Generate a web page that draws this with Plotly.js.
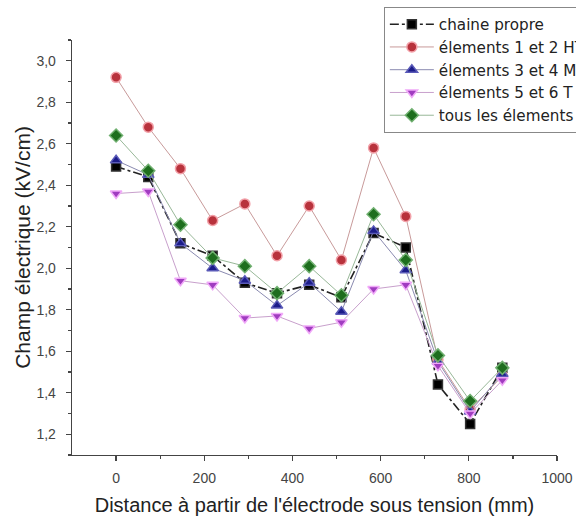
<!DOCTYPE html>
<html>
<head>
<meta charset="utf-8">
<script src="https://cdn.plot.ly/plotly-3.0.1.min.js"></script>
<style>html,body{margin:0;padding:0;background:#fff;overflow:hidden;}#chart{width:576px;height:522px;}</style>
</head>
<body>
<div id="chart"></div>
<script>
const distance = [0, 73, 146, 219, 292, 365, 438, 511, 584, 657, 730, 803, 876];
const chainePropre = [2.49, 2.44, 2.12, 2.06, 1.93, 1.88, 1.92, 1.86, 2.17, 2.10, 1.44, 1.25, 1.52];
const elements12 = [2.92, 2.68, 2.48, 2.23, 2.31, 2.06, 2.30, 2.04, 2.58, 2.25, 1.56, 1.32, 1.48];
const elements34 = [2.52, 2.45, 2.12, 2.00, 1.94, 1.82, 1.93, 1.79, 2.18, 1.99, 1.55, 1.31, 1.49];
const elements56 = [2.36, 2.37, 1.94, 1.92, 1.76, 1.77, 1.71, 1.74, 1.90, 1.92, 1.53, 1.30, 1.46];
const tousElements = [2.64, 2.47, 2.21, 2.05, 2.01, 1.88, 2.01, 1.87, 2.26, 2.04, 1.58, 1.36, 1.52];
const seriesNames = ["chaine propre", "élements 1 et 2 HT", "élements 3 et 4 MT", "élements 5 et 6 T", "tous les élements"];
const xTitle = "Distance à partir de l'électrode sous tension (mm)";
const yTitle = "Champ électrique (kV/cm)";

function tr(y, name, lineColor, dash, mColor, symbol, mLine, size) {
  return {
    x: distance, y: y, name: name, type: 'scatter', mode: 'lines+markers',
    line: {color: lineColor, width: dash === 'solid' ? 1 : 1.6, dash: dash},
    marker: {color: mColor, symbol: symbol, size: size, line: {color: mLine, width: 1.5}}
  };
}
const data = [
  tr(chainePropre, seriesNames[0], '#222222', 'dashdot', '#000000', 'square', '#333333', 9),
  tr(elements12, seriesNames[1], '#c89a9a', 'solid', '#b8323c', 'circle', '#f2a0a8', 10),
  tr(elements34, seriesNames[2], '#8a8ab0', 'solid', '#1c1c8a', 'triangle-up', '#5a5ab8', 10),
  tr(elements56, seriesNames[3], '#c8a0cc', 'solid', '#a03cc0', 'triangle-down', '#f0a8f8', 10),
  tr(tousElements, seriesNames[4], '#98b898', 'solid', '#1e6e1e', 'diamond', '#70b070', 10)
];
const layout = {
  width: 576, height: 522,
  margin: {l: 72, r: 19, t: 40, b: 67, autoexpand: false},
  paper_bgcolor: '#ffffff', plot_bgcolor: '#ffffff',
  font: {family: 'Liberation Sans, Arial, sans-serif', color: '#333333', size: 14},
  separators: ', ',
  showlegend: true,
  legend: {
    x: 0.643, y: 1.08, xanchor: 'left', yanchor: 'top',
    bgcolor: '#ffffff', bordercolor: '#888888', borderwidth: 1,
    font: {size: 15.2, color: '#222222', family: 'DejaVu Sans, sans-serif'}, tracegroupgap: 0, itemwidth: 44
  },
  xaxis: {
    range: [-100, 1000], showgrid: false, zeroline: false,
    showline: true, linecolor: '#444444', linewidth: 1.3,
    ticks: 'outside', ticklen: 5, tickcolor: '#444444', tickwidth: 1.2,
    ticklabelstandoff: 5,
    tickvals: [0, 200, 400, 600, 800, 1000],
    minor: {tickvals: [100, 300, 500, 700, 900], ticks: 'outside', ticklen: 3, tickcolor: '#444444'},
    tickfont: {size: 14, color: '#444444'},
    title: {text: xTitle, font: {size: 20, color: '#222222'}, standoff: 13}
  },
  yaxis: {
    range: [1.1, 3.1], showgrid: false, zeroline: false,
    showline: true, linecolor: '#444444', linewidth: 1.3,
    ticks: 'outside', ticklen: 5, tickcolor: '#444444', tickwidth: 1.2,
    ticklabelstandoff: 7,
    tickvals: [1.2, 1.4, 1.6, 1.8, 2.0, 2.2, 2.4, 2.6, 2.8, 3.0],
    tickformat: '.1f',
    minor: {dtick: 0.1, ticks: 'outside', ticklen: 3, tickcolor: '#444444'},
    tickfont: {size: 14, color: '#444444'},
    title: {text: yTitle, font: {size: 21, color: '#222222'}, standoff: 0}
  }
};
Plotly.newPlot('chart', data, layout, {displayModeBar: false, staticPlot: true});
</script>
</body>
</html>
